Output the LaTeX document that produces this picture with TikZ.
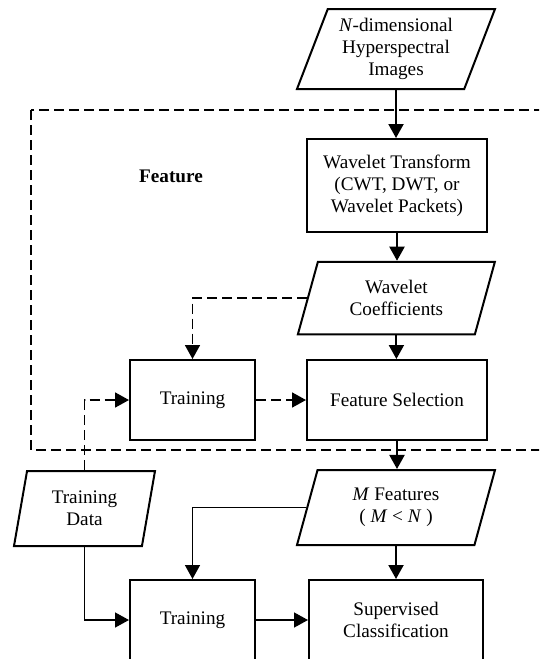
\documentclass[tikz,border=0pt]{standalone}
\usepackage{fontspec}
\setmainfont{Liberation Serif}
\usetikzlibrary{arrows.meta,shapes.geometric}
\tikzset{
  every node/.style={font=\fontsize{19.2}{22}\selectfont, align=center, inner sep=0pt},
  procbox/.style={draw, line width=2pt, rectangle},
  databox/.style={draw, line width=2pt, trapezium, trapezium stretches body=true},
  flow/.style={line width=2pt, -{Triangle[width=15pt,length=14pt]}},
  thinflow/.style={line width=1.5pt, -{Triangle[width=15pt,length=14pt]}},
  dflow/.style={line width=1.8pt, dash pattern=on 10pt off 5pt, -{Triangle[width=15pt,length=14pt]}},
  region/.style={line width=2pt, dash pattern=on 10pt off 5pt},
}
\begin{document}
\begin{tikzpicture}[x=1pt,y=-1pt]
\useasboundingbox (0,0) rectangle (539,659);
\clip (0,0) rectangle (539,659);
\fill[white] (0,0) rectangle (539,659);

\node[databox, trapezium left angle=63.4, trapezium right angle=116.6, minimum width=198pt, minimum height=80pt] (img) at (396,49) {\textit{N}-dimensional\\Hyperspectral\\Images};
\node[procbox, minimum width=180pt, minimum height=93pt] (wt) at (397,185.5) {Wavelet Transform\\(CWT, DWT, or\\Wavelet Packets)};
\node[font=\fontsize{19.2}{22}\selectfont\bfseries] (feat) at (171,176) {Feature};
\node[databox, trapezium left angle=60.6, trapezium right angle=119.4, minimum width=197pt, minimum height=72.5pt] (wc) at (396.4,298) {Wavelet\\Coefficients};
\node[procbox, minimum width=125pt, minimum height=80pt] (tr1) at (192.5,400) {Training};
\node[procbox, minimum width=180pt, minimum height=80pt] (fs) at (397,400) {Feature Selection};
\node[databox, trapezium left angle=69.5, trapezium right angle=110.5, minimum width=141pt, minimum height=75pt] (td) at (84.5,508.5) {Training\\Data};
\node[databox, trapezium left angle=62, trapezium right angle=118, minimum width=198pt, minimum height=75pt] (mf) at (396,507.5) {\textit{M} Features\\( \textit{M} < \textit{N} )};
\node[procbox, minimum width=125pt, minimum height=80pt] (tr2) at (192.5,620) {Training};
\node[procbox, minimum width=174pt, minimum height=80pt] (sc) at (396,620) {Supervised\\Classification};

\draw[region] (31,110) rectangle (570,450);

\draw[flow] (img.south) -- (img.south |- wt.north);
\draw[flow] (wt.south) -- (wt.south |- wc.north);
\draw[flow] (wc.south) -- (wc.south |- fs.north);
\draw[flow] (fs.south) -- (fs.south |- mf.north);
\draw[flow] (mf.south) -- (mf.south |- sc.north);
\draw[dflow] (wc.west) -| (tr1.north);
\draw[dflow] (tr1.east) -- (fs.west);
\draw[dflow] (td.north) |- (tr1.west);
\draw[thinflow] (mf.west) -| (tr2.north);
\draw[thinflow] (td.south) |- (tr2.west);
\draw[thinflow] (tr2.east) -- (sc.west);
\end{tikzpicture}
\end{document}
